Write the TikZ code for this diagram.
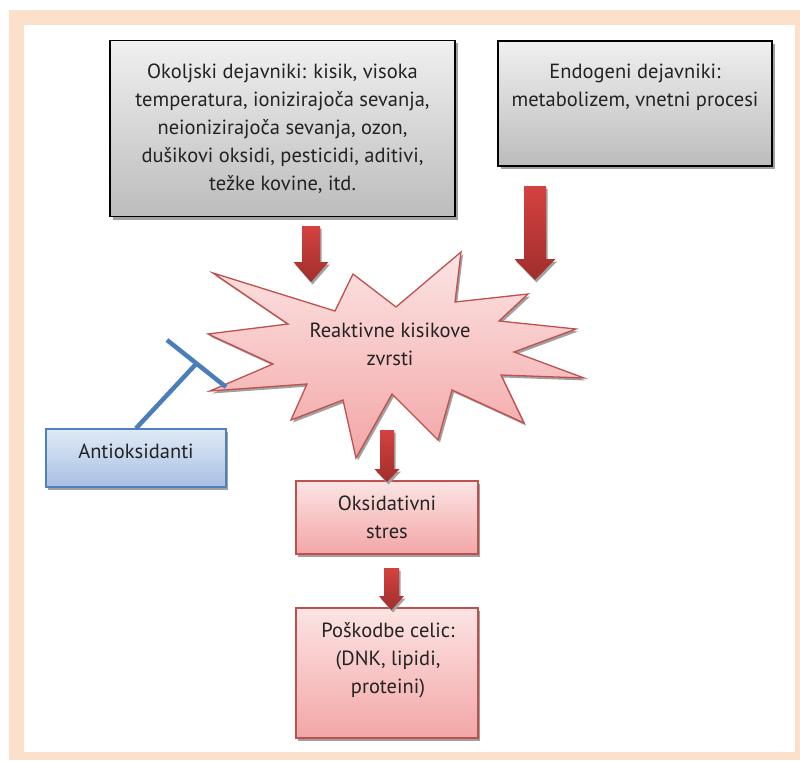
\documentclass[tikz,border=0pt]{standalone}
\usepackage{fontspec}
\setmainfont{PT Sans}
\usetikzlibrary{shadows}
\definecolor{peach}{RGB}{253,224,202}
\definecolor{txt}{RGB}{35,35,35}
\definecolor{graytop}{RGB}{240,240,240}
\definecolor{graybot}{RGB}{188,188,188}
\definecolor{pinktop}{RGB}{252,228,228}
\definecolor{pinkbot}{RGB}{243,166,166}
\definecolor{redline}{RGB}{192,80,77}
\definecolor{bluetop}{RGB}{224,234,246}
\definecolor{bluebot}{RGB}{168,192,227}
\definecolor{blueline}{RGB}{79,129,189}
\definecolor{tbarcol}{RGB}{74,126,187}
\definecolor{arrtop}{RGB}{212,66,64}
\definecolor{arrbot}{RGB}{160,46,44}
\definecolor{shadowcol}{RGB}{160,160,160}
\newcommand\blockarr[6]{%
  \fill[shadowcol, shift={(1.5,2.5)}] ({#1-#5},#2) -- ({#1+#5},#2) -- ({#1+#5},#3) -- ({#1+#6},#3) -- (#1,#4) -- ({#1-#6},#3) -- ({#1-#5},#3) -- cycle;
  \shade[top color=arrtop, bottom color=arrbot] ({#1-#5},#2) -- ({#1+#5},#2) -- ({#1+#5},#3) -- ({#1+#6},#3) -- (#1,#4) -- ({#1-#6},#3) -- ({#1-#5},#3) -- cycle;
}
\tikzset{
  txtfont/.style={font=\fontsize{20.5}{28}\selectfont, text=txt, align=center},
  graybox/.style={draw=black, line width=1.5pt, top color=graytop, bottom color=graybot,
     drop shadow={shadow xshift=3pt, shadow yshift=-3pt, fill=shadowcol, opacity=1},
     inner sep=0pt, txtfont},
  pinkbox/.style={draw=redline, line width=1.3pt, top color=pinktop, bottom color=pinkbot,
     drop shadow={shadow xshift=2pt, shadow yshift=-3pt, fill=shadowcol, opacity=1},
     inner sep=0pt, txtfont},
  bluebox/.style={draw=blueline, line width=1.3pt, top color=bluetop, bottom color=bluebot,
     drop shadow={shadow xshift=2pt, shadow yshift=-3pt, fill=shadowcol, opacity=1},
     inner sep=0pt, txtfont},
  plaintext/.style={inner sep=0pt, txtfont},
  tbar/.style={draw=tbarcol, line width=4.5pt},
}
\begin{document}
\begin{tikzpicture}[x=1pt, y=-1pt]
\useasboundingbox (0,0) rectangle (800,760);
% frame
\fill[peach] (9,10) rectangle (800,760);
\fill[white] (24,25) rectangle (795,752);

% top boxes
\node[graybox, minimum width=345pt, minimum height=176pt] (okolj) at (282.5,128.5)
  {Okoljski dejavniki: kisik, visoka\\temperatura, ionizirajoča sevanja,\\neionizirajoča sevanja, ozon,\\dušikovi oksidi, pesticidi, aditivi,\\težke kovine, itd.};
\node[graybox, minimum width=274pt, minimum height=125pt] (endo) at (635,103.5) {};
\node[plaintext] (endotext) at (635,87) {Endogeni dejavniki:\\metabolizem, vnetni procesi};

% starburst
\fill[shadowcol, shift={(2,2.5)}]
  (213,273) -- (335,311) -- (353,274) -- (396,307) -- (461,252) -- (455,302) --
  (528,294) -- (499,321) -- (576,329) -- (514,352) -- (584,378) -- (501,375) --
  (524,423) -- (452,390) -- (438,440) -- (392,394) -- (356,458) -- (343,400) --
  (291,420) -- (307,384) -- (210,391) -- (273,364) -- (208,334) -- (288,324) -- cycle;
\path[draw=redline, line width=1.3pt, line join=miter, top color=pinktop, bottom color=pinkbot]
  (213,273) -- (335,311) -- (353,274) -- (396,307) -- (461,252) -- (455,302) --
  (528,294) -- (499,321) -- (576,329) -- (514,352) -- (584,378) -- (501,375) --
  (524,423) -- (452,390) -- (438,440) -- (392,394) -- (356,458) -- (343,400) --
  (291,420) -- (307,384) -- (210,391) -- (273,364) -- (208,334) -- (288,324) -- cycle;
\node[plaintext] (ros) at (390,344) {Reaktivne kisikove\\zvrsti};

% lower boxes
\node[pinkbox, minimum width=182pt, minimum height=73pt] (stres) at (387,517.5)
  {Oksidativni\\stres};
\node[pinkbox, minimum width=182pt, minimum height=130pt] (celic) at (387,673) {};
\node[plaintext] (celictext) at (388,660) {Poškodbe celic:\\(DNK, lipidi,\\proteini)};

% antioxidants
\node[bluebox, minimum width=180pt, minimum height=58pt, text height=14pt, text depth=14pt] (anti) at (136,458) {Antioksidanti};

% block arrows
\blockarr{311}{226}{262}{282}{9}{17.5}
\blockarr{535}{186}{259}{280}{11}{20.5}
\blockarr{387}{430}{469}{482}{7}{12.5}
\blockarr{391.5}{568}{596}{610}{7.5}{12.5}

% inhibition T-bar
\coordinate (tb) at (196.5,363.5);
\coordinate (tb1) at (167,340);
\coordinate (tb2) at (226,387);
\draw[tbar] (anti.north) -- (tb);
\draw[tbar] (tb1) -- (tb2);
\end{tikzpicture}
\end{document}
